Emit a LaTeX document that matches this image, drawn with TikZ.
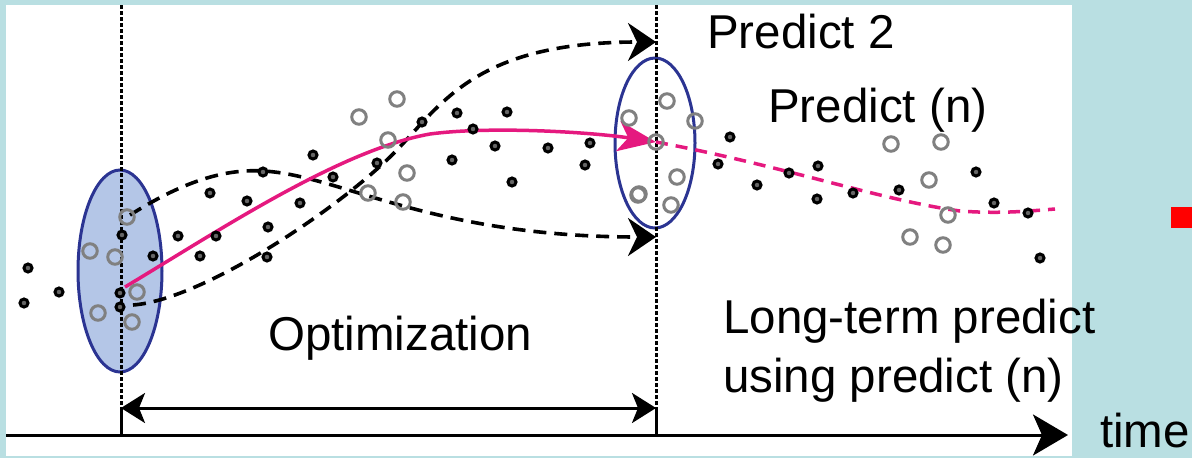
\documentclass[tikz,border=0pt]{standalone}
\usepackage{fontspec}
\setmainfont{Liberation Sans}
\usetikzlibrary{arrows.meta,shapes.geometric}
\definecolor{bgteal}{RGB}{185,223,226}
\definecolor{navy}{RGB}{43,52,146}
\definecolor{paleblue}{RGB}{180,198,231}
\definecolor{rose}{RGB}{229,25,127}
\definecolor{ringgray}{RGB}{128,128,128}

\begin{document}
\begin{tikzpicture}[x=1pt, y=-1pt,
      meas/.style={circle, draw=black, line width=3pt, fill=black!60,
                   minimum size=8pt, inner sep=0pt},
      est/.style={circle, draw=ringgray, line width=3pt,
                  minimum size=14.5pt, inner sep=0pt},
      win/.style={ellipse, draw=navy, line width=3pt, inner sep=0pt},
      guide/.style={line width=3pt, dash pattern=on 4pt off 2pt},
      traj/.style={line width=3.6pt, dash pattern=on 13pt off 8pt,
                   -{Stealth[length=28pt, width=38pt, inset=9pt]}},
      lbl/.style={font=\fontsize{47.5}{56}\selectfont, inner sep=0pt,
                  anchor=base west}]
    \useasboundingbox (0,0) rectangle (1192,458);
    \fill[bgteal] (0,0) rectangle (1192,458);
    \fill[white] (6,5) rectangle (1072,456);
    \fill[red] (1171,207) rectangle (1192,228);
    % windows at start and end of optimization
    \node[win, fill=paleblue, minimum width=84pt, minimum height=202pt]
      (win1) at (120,271) {};
    \node[win, minimum width=80pt, minimum height=170pt]
      (win2) at (655,143) {};
    % time axis and guides
    \coordinate (v1top) at (121,5);
    \coordinate (v1mid) at (121,408);
    \coordinate (v1bot) at (121,435);
    \coordinate (v2top) at (656,5);
    \coordinate (v2mid) at (656,408);
    \coordinate (v2bot) at (656,435);
    \coordinate (t0) at (6,435);
    \coordinate (t1) at (1068,435);
    \draw[guide] (v1top) -- (v1mid);
    \draw[guide] (v2top) -- (v2mid);
    \draw[line width=3pt] (v1mid) -- (v1bot) (v2mid) -- (v2bot);
    \draw[line width=3pt, -{Stealth[length=35pt, width=41pt, inset=9pt]}]
      (t0) -- (t1);
    \draw[line width=3pt,
          {Stealth[length=24pt, width=30pt, inset=6pt]}-{Stealth[length=24pt, width=30pt, inset=6pt]}]
      (v1mid) -- (v2mid);
    % candidate trajectories
    \coordinate (a0) at (130,215);
    \coordinate (a1) at (263,171);
    \coordinate (a2) at (656,237);
    \coordinate (b0) at (133,305);
    \coordinate (b1) at (390,157);
    \coordinate (b2) at (656,42);
    \draw[traj] (a0) .. controls (170,190) and (215,168) .. (a1)
      .. controls (340,175) and (430,237) .. (a2);
    \draw[traj] (b0) .. controls (200,300) and (330,215) .. (b1)
      .. controls (440,108) and (470,42) .. (b2);
    % optimized fit and its continuation
    \coordinate (p0) at (125,287);
    \coordinate (p1) at (430,134);
    \coordinate (p2) at (656,142);
    \coordinate (p3) at (960,211);
    \coordinate (p4) at (1055,209);
    \draw[rose, line width=3.5pt,
          -{Stealth[length=38pt, width=30pt, inset=10pt]}]
      (p0) .. controls (220,230) and (340,150) .. (p1)
      .. controls (490,126) and (590,132) .. (p2);
    \draw[rose, line width=3.5pt, dash pattern=on 12pt off 8pt]
      (p2) .. controls (780,165) and (880,200) .. (p3)
      .. controls (1000,214) and (1030,211) .. (p4);
    % observed samples
    \foreach \x/\y [count=\i] in {313/155, 263/172, 210/193, 247/201, 300/203,
        122/235, 178/236, 216/236, 268/227, 200/256, 267/257, 153/256,
        28/268, 59/292, 24/303, 120/293, 120/307, 333/177, 377/163,
        422/122, 457/113, 507/112, 473/129, 495/146, 452/160, 512/182,
        548/148, 590/143, 585/165, 730/137, 718/164, 757/185, 789/173,
        818/166, 817/199, 853/193, 899/190, 976/172, 994/203, 1028/213,
        1040/258}{
      \node[meas] (meas\i) at (\x,\y) {};
    }
    \foreach \x/\y [count=\i] in {127/217, 90/251, 115/257, 137/292, 98/313,
        132/322, 359/117, 397/99, 388/140, 368/193, 407/173, 403/202,
        629/118, 638/195, 667/101, 695/121, 656/142, 677/177, 639/194,
        671/205, 891/144, 941/142, 929/180, 948/215, 910/237, 943/245}{
      \node[est] (est\i) at (\x,\y) {};
    }
    % labels
    \node[lbl] (pred2) at (707,48) {Predict 2};
    \node[lbl] (predn) at (768,122) {Predict (n)};
    \node[lbl] (optim) at (268,350) {Optimization};
    \node[lbl] (long1) at (723,333) {Long-term predict};
    \node[lbl] (long2) at (723,392) {using predict (n)};
    \node[lbl] (timelbl) at (1100,447) {time};
  \end{tikzpicture}
\end{document}
